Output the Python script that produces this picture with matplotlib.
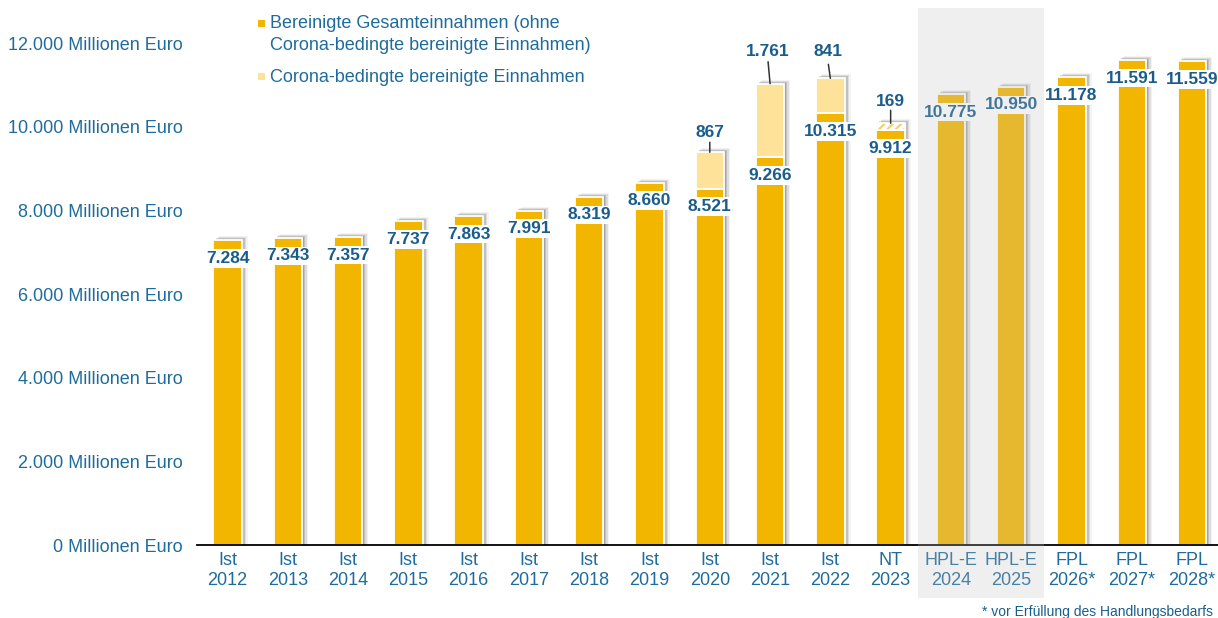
import matplotlib
matplotlib.use("Agg")
import matplotlib.pyplot as plt
from matplotlib.patches import Rectangle

plt.rcParams['font.family'] = ['Liberation Sans', 'DejaVu Sans']
plt.rcParams['hatch.linewidth'] = 1.6

# data
kinds = ['Ist'] * 11 + ['NT'] + ['HPL-E'] * 2 + ['FPL'] * 3
years = ['2012', '2013', '2014', '2015', '2016', '2017', '2018', '2019', '2020',
         '2021', '2022', '2023', '2024', '2025', '2026*', '2027*', '2028*']
base = [7284, 7343, 7357, 7737, 7863, 7991, 8319, 8660, 8521, 9266, 10315,
        9912, 10775, 10950, 11178, 11591, 11559]
corona = [0, 0, 0, 0, 0, 0, 0, 0, 867, 1761, 841, 169, 0, 0, 0, 0, 0]
yticks = [0, 2000, 4000, 6000, 8000, 10000, 12000]

GOLD = '#F2B600'
LIGHT = '#FFE29A'
HATCH = '#F4D06A'
TXT = '#1F6C9C'
VAL = '#1A5D8C'

W, H = 1218, 618
fig = plt.figure(figsize=(W / 100, H / 100), dpi=100)
ax = fig.add_axes([197 / W, 73 / H, 1021 / W, 545 / H])
ax.set_xlim(-0.506, 16.43)
ax.set_ylim(0, 545 / 0.041833)

xpx = 1 / 60.28          # data units per pixel
ypx = 1 / 0.041833
width = 0.473


def fmt(v):
    return f"{v:,}".replace(',', '.')


x = list(range(len(base)))
tops = [b + c for b, c in zip(base, corona)]

# soft shadow
for dx, dy, a in [(1.5, 1.0, 0.32), (3.0, 2.0, 0.24), (4.5, 3.0, 0.16), (6.0, 4.0, 0.08)]:
    ax.bar([i + dx * xpx for i in x], [t + dy * ypx for t in tops], width,
           color='#6a6a6a', alpha=a, linewidth=0, zorder=1)

ax.bar(x, base, width, color=GOLD, edgecolor='white', linewidth=1.3, zorder=2)

for i, (b, c) in enumerate(zip(base, corona)):
    if c == 0:
        continue
    if kinds[i] == 'NT':
        ax.bar(i, c, width, bottom=b, facecolor='white', edgecolor=HATCH,
               hatch='////', linewidth=0, zorder=2)
        ax.bar(i, c, width, bottom=b, fill=False, edgecolor='white',
               linewidth=1.3, zorder=2)
    else:
        ax.bar(i, c, width, bottom=b, color=LIGHT, edgecolor='white',
               linewidth=1.3, zorder=2)

# value labels in white boxes just below the bar top
for i, b in enumerate(base):
    ax.annotate(fmt(b), (i, b), xytext=(0, -16.2), textcoords='offset points',
                ha='center', va='baseline', fontsize=12.5, fontweight='bold',
                color=VAL, zorder=4,
                bbox=dict(boxstyle='square,pad=0.1', fc='white', ec='none'))

# corona labels with leader lines (offsets in px: label centre, line length, tilt)
lead = {8: (22, 10, 0), 9: (34, 22, -2), 10: (29, 14, -2), 11: (24, 13, 0)}
for i, (off, ln, tilt) in lead.items():
    t = tops[i]
    ax.annotate('', xy=(i, t), xytext=(tilt * 0.72, ln * 0.72),
                textcoords='offset points',
                arrowprops=dict(arrowstyle='-', color='#333333', lw=1.1,
                                shrinkA=0, shrinkB=0), zorder=4)
    ax.annotate(fmt(corona[i]), (i, t), xytext=(tilt * 0.72, (off - 6.3) * 0.72),
                textcoords='offset points', ha='center', va='baseline',
                fontsize=12.5, fontweight='bold', color=VAL, zorder=4)

for s in ['top', 'right', 'left']:
    ax.spines[s].set_visible(False)
ax.spines['bottom'].set_color('black')
ax.spines['bottom'].set_linewidth(1.3)
ax.set_yticks(yticks)
ax.set_yticklabels([f"{fmt(v)} Millionen Euro" for v in yticks])
ax.set_xticks(x)
ax.set_xticklabels([f"{k}\n{y}" for k, y in zip(kinds, years)])
ax.tick_params(axis='y', length=0, pad=10, labelsize=13, labelcolor=TXT)
ax.tick_params(axis='x', length=0, pad=5, labelsize=13, labelcolor=TXT)

# grey panel over the HPL-E years
fig.add_artist(Rectangle((918 / W, 1 - 598 / H), 126 / W, 590 / H,
                         transform=fig.transFigure, facecolor='#c0c0c0',
                         alpha=0.25, linewidth=0, zorder=10))

# legend
fig.add_artist(Rectangle((258 / W, 1 - 27 / H), 7 / W, 7 / H,
                         transform=fig.transFigure, facecolor=GOLD, linewidth=0))
fig.add_artist(Rectangle((258 / W, 1 - 80 / H), 7 / W, 7 / H,
                         transform=fig.transFigure, facecolor=LIGHT, linewidth=0))
fig.text(270 / W, 1 - 23 / H, 'Bereinigte Gesamteinnahmen (ohne',
         fontsize=13, color=TXT, va='center')
fig.text(270 / W, 1 - 45 / H, 'Corona-bedingte bereinigte Einnahmen)',
         fontsize=13, color=TXT, va='center')
fig.text(270 / W, 1 - 77 / H, 'Corona-bedingte bereinigte Einnahmen',
         fontsize=13, color=TXT, va='center')

fig.text(1213 / W, 1 - 612 / H, '* vor Erfüllung des Handlungsbedarfs',
         fontsize=10, color=VAL, ha='right', va='center')

fig.savefig('out.png', dpi=100)
